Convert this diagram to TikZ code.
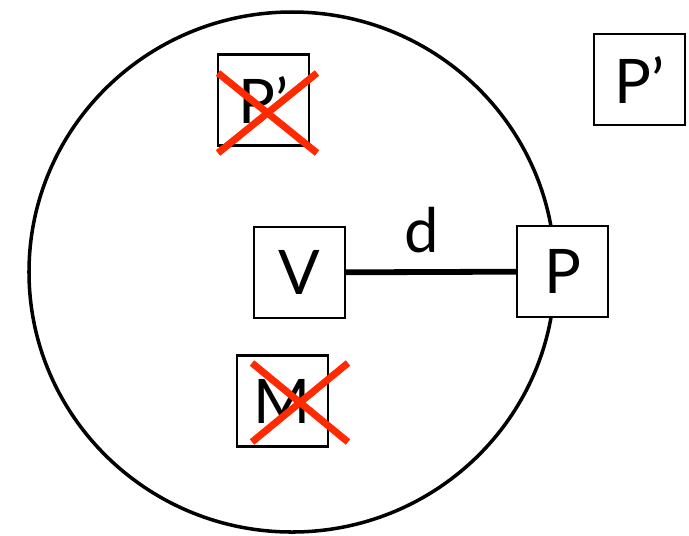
\documentclass[tikz,border=0pt]{standalone}
\usepackage{fontspec}
\setmainfont{Lato}
\usepackage{xcolor}
\definecolor{cLine}{HTML}{000000}
\definecolor{cCross}{HTML}{FF2A00}
\usetikzlibrary{positioning}
\tikzset{
  node-box/.style={draw=cLine,line width=1.4pt,fill=white,minimum size=1.82cm,
    inner sep=0pt,font=\fontsize{35}{40}\selectfont},
  node-label/.style={font=\fontsize{35}{40}\selectfont,inner sep=0pt},
  line-range/.style={draw=cLine,line width=2pt},
  line-dist/.style={draw=cLine,line width=3.3pt},
  line-cross/.style={draw=cCross,line width=4pt},
}

\begin{document}
\begin{tikzpicture}[x=0.02cm,y=-0.02cm]
  \useasboundingbox (0,0) rectangle (689,535);
  % Reichweite um V
  \draw[line-range] (292,272) ellipse [x radius=263,y radius=260];
  \node[node-box] (v) at (299.5,272.5) {V};
  \node[node-box] (p) at (562.5,271.5) {P};
  \node[node-box] (pin) at (263.5,100) {P’};
  \node[node-box] (pout) at (639.5,79.5) {P’};
  \node[node-box] (m) at (282.5,401) {M};
  \draw[line-dist] (v) -- (p) node[midway,above=9pt,xshift=-0.18cm,node-label] (d) {d};
  % gestrichene Kandidaten
  \draw[line-cross] (218,73) -- (317,153) (317,73) -- (218,153);
  \draw[line-cross] (252,363) -- (348,442) (348,363) -- (252,442);
\end{tikzpicture}
\end{document}
